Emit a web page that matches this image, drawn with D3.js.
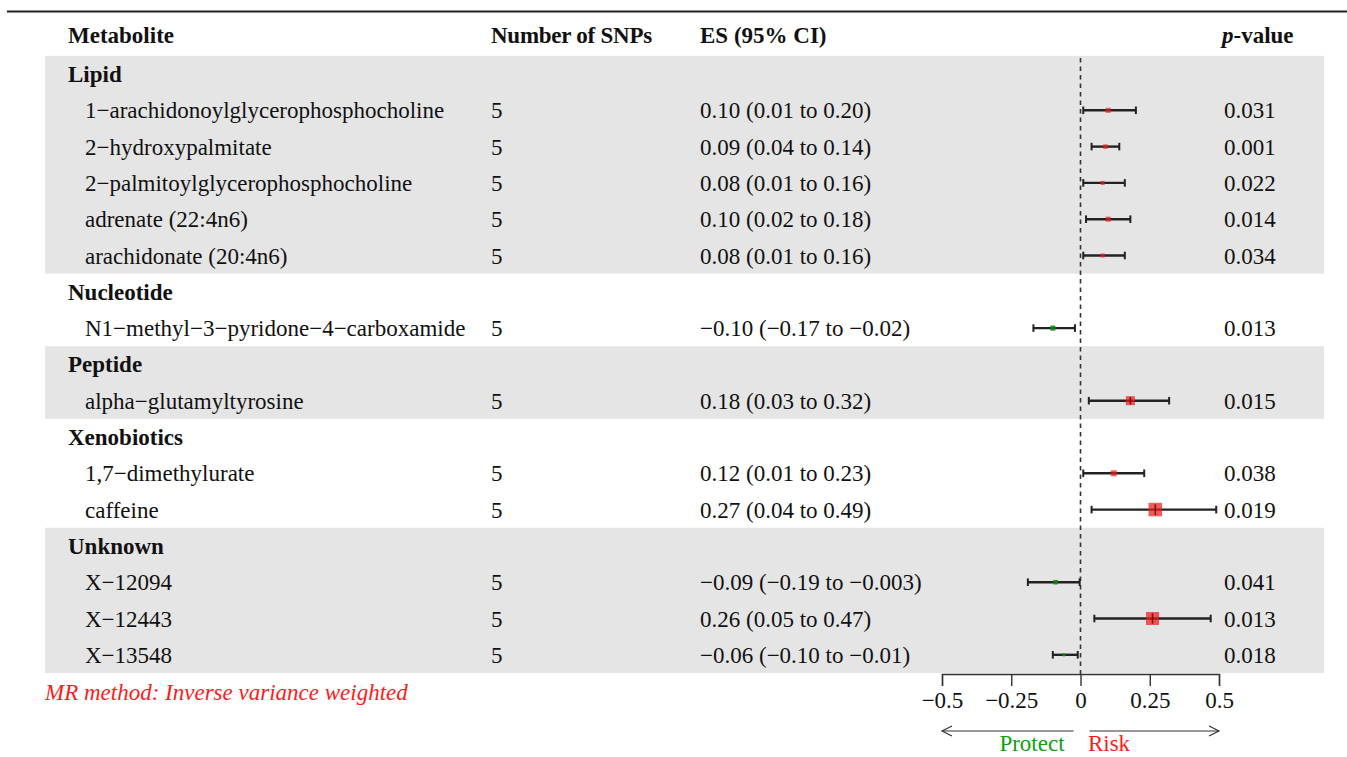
<!DOCTYPE html>
<html>
<head>
<meta charset="utf-8">
<script src="https://cdn.jsdelivr.net/npm/d3@7"></script>
<style>
  html, body { margin: 0; padding: 0; background: #fff; }
  svg { display: block; }
  text { font-family: "Liberation Serif", "Times New Roman", serif; fill: #111; }
</style>
</head>
<body>
<svg id="chart" width="1347" height="757"></svg>
<script>
// Metabolite groups and metabolites (MR estimates, inverse variance weighted)
const groups = ["Lipid", "Nucleotide", "Peptide", "Xenobiotics", "Unknown"];
const metabolites = [
  "1\u2212arachidonoylglycerophosphocholine",
  "2\u2212hydroxypalmitate",
  "2\u2212palmitoylglycerophosphocholine",
  "adrenate (22:4n6)",
  "arachidonate (20:4n6)",
  "N1\u2212methyl\u22123\u2212pyridone\u22124\u2212carboxamide",
  "alpha\u2212glutamyltyrosine",
  "1,7\u2212dimethylurate",
  "caffeine",
  "X\u221212094",
  "X\u221212443",
  "X\u221213548"
];
const metaboliteGroup = ["Lipid", "Lipid", "Lipid", "Lipid", "Lipid",
  "Nucleotide", "Peptide", "Xenobiotics", "Xenobiotics",
  "Unknown", "Unknown", "Unknown"];
const nSNPs = [5, 5, 5, 5, 5, 5, 5, 5, 5, 5, 5, 5];
const estimates = [0.10, 0.09, 0.08, 0.10, 0.08, -0.10, 0.18, 0.12, 0.27, -0.09, 0.26, -0.06];
const lower = [0.01, 0.04, 0.01, 0.02, 0.01, -0.17, 0.03, 0.01, 0.04, -0.19, 0.05, -0.10];
const upper = [0.20, 0.14, 0.16, 0.18, 0.16, -0.02, 0.32, 0.23, 0.49, -0.003, 0.47, -0.01];
const pValues = ["0.031", "0.001", "0.022", "0.014", "0.034", "0.013", "0.015", "0.038", "0.019", "0.041", "0.013", "0.018"];
const xTicks = [-0.5, -0.25, 0, 0.25, 0.5];

const svg = d3.select("#chart");
const FONT = 23;
const serif = '"Liberation Serif", "Times New Roman", serif';

// Build the table rows: a bold group row followed by its metabolites
const rows = [];
groups.forEach((g, gi) => {
  rows.push({ type: "group", label: g, gi });
  metabolites.forEach((m, i) => {
    if (metaboliteGroup[i] === g) rows.push({ type: "item", label: m, i, gi });
  });
});

const y = d3.scaleLinear().domain([0, rows.length - 1]).range([74, 654.8]);
const rowH = y(1) - y(0);
const x = d3.scaleLinear().domain([-0.5, 0.5]).range([942, 1219]);
const size = d3.scaleLinear().domain([0, 0.27]).range([0, 13.5]);

const col = { name: 68, item: 85, snp: 491, es: 700, p: 1224 };
const fmt = v => (v !== 0 && Math.abs(v) < 0.005) ? d3.format(".3f")(v) : d3.format(".2f")(v);

// Shaded bands for alternating groups
groups.forEach((g, gi) => {
  if (gi % 2 !== 0) return;
  const idx = rows.map((r, k) => r.gi === gi ? k : -1).filter(k => k >= 0);
  const top = y(d3.min(idx)) - rowH / 2, bottom = y(d3.max(idx)) + rowH / 2;
  svg.append("rect").attr("x", 45).attr("y", top).attr("width", 1324 - 45)
    .attr("height", bottom - top).attr("fill", "#e5e5e5");
});

// Top rule
svg.append("line").attr("x1", 7).attr("x2", 1347).attr("y1", 11.5).attr("y2", 11.5)
  .attr("stroke", "#222").attr("stroke-width", 2);

// Header
const header = svg.append("g").attr("font-size", FONT).attr("font-weight", "bold");
header.append("text").attr("x", col.name).attr("y", 43).text("Metabolite");
header.append("text").attr("x", col.snp).attr("y", 43).attr("letter-spacing", -0.25).text("Number of SNPs");
header.append("text").attr("x", col.es).attr("y", 43).text("ES (95% CI)");
const ph = header.append("text").attr("x", 1222).attr("y", 43);
ph.append("tspan").attr("font-style", "italic").text("p");
ph.append("tspan").text("-value");

// Reference line at zero
svg.append("line").attr("x1", x(0)).attr("x2", x(0)).attr("y1", 58).attr("y2", 674)
  .attr("stroke", "#333").attr("stroke-width", 1.6).attr("stroke-dasharray", "4.5,4");

// Table text
const body = svg.append("g").attr("font-size", FONT);
rows.forEach((r, k) => {
  const yy = y(k) + 8;
  if (r.type === "group") {
    body.append("text").attr("x", col.name).attr("y", yy).attr("font-weight", "bold").text(r.label);
  } else {
    const i = r.i;
    body.append("text").attr("x", col.item).attr("y", yy).text(r.label);
    body.append("text").attr("x", col.snp).attr("y", yy).text(nSNPs[i]);
    body.append("text").attr("x", col.es).attr("y", yy)
      .text(`${fmt(estimates[i])} (${fmt(lower[i])} to ${fmt(upper[i])})`);
    body.append("text").attr("x", col.p).attr("y", yy).text(pValues[i]);
  }
});

// Forest marks: CI whiskers with caps, then the estimate box
const items = rows.map((r, k) => ({ ...r, k })).filter(r => r.type === "item");
const marks = svg.append("g");
items.forEach(r => {
  const i = r.i, yy = y(r.k);
  const g = marks.append("g");
  g.append("line").attr("x1", x(lower[i])).attr("x2", x(upper[i])).attr("y1", yy).attr("y2", yy)
    .attr("stroke", "#222").attr("stroke-width", 2.4);
  [lower[i], upper[i]].forEach(v => {
    g.append("line").attr("x1", x(v)).attr("x2", x(v)).attr("y1", yy - 3.8).attr("y2", yy + 3.8)
      .attr("stroke", "#222").attr("stroke-width", 2);
  });
  const s = Math.max(3, size(Math.abs(estimates[i])));
  const pos = estimates[i] > 0;
  g.append("rect").attr("x", x(estimates[i]) - s / 2).attr("y", yy - s / 2)
    .attr("width", s).attr("height", s)
    .attr("fill", pos ? "#ee1c1c" : "#0a8a0a").attr("fill-opacity", pos ? 0.72 : 0.9);
  if (s > 6) {
    g.append("line").attr("x1", x(estimates[i])).attr("x2", x(estimates[i]))
      .attr("y1", yy - s * 0.4).attr("y2", yy + s * 0.4)
      .attr("stroke", "#6a0000").attr("stroke-width", 1.6).attr("stroke-opacity", 0.8);
  }
});

// Axis
const axis = d3.axisBottom(x).tickValues(xTicks).tickSize(12).tickPadding(6)
  .tickFormat(d => d === 0 ? "0" : d3.format("")(d));
const ag = svg.append("g").attr("transform", "translate(0,674)").call(axis);
ag.select(".domain").attr("stroke", "#333").attr("stroke-width", 1.4);
ag.selectAll(".tick line").attr("stroke", "#333").attr("stroke-width", 1.4);
ag.selectAll(".tick text").attr("font-size", FONT).attr("font-family", serif).attr("fill", "#111");

// Direction arrows
const arrowY = 731;
function arrow(x1, x2) {
  const dir = Math.sign(x2 - x1);
  svg.append("line").attr("x1", x1).attr("x2", x2).attr("y1", arrowY).attr("y2", arrowY)
    .attr("stroke", "#333").attr("stroke-width", 1.2);
  svg.append("path")
    .attr("d", `M${x2 - dir * 10},${arrowY - 5}L${x2},${arrowY}L${x2 - dir * 10},${arrowY + 5}`)
    .attr("fill", "none").attr("stroke", "#333").attr("stroke-width", 1.2);
}
arrow(x(0) - 7, x(-0.5));
arrow(x(0) + 9, x(0.5));
svg.append("text").attr("x", 1032).attr("y", 751).attr("text-anchor", "middle")
  .attr("font-size", FONT).style("fill", "#10a010").text("Protect");
svg.append("text").attr("x", 1109).attr("y", 751).attr("text-anchor", "middle")
  .attr("font-size", FONT).style("fill", "#ff1a1a").text("Risk");

// Method note
svg.append("text").attr("x", 45).attr("y", 700).attr("font-size", FONT)
  .attr("font-style", "italic").style("fill", "#ff1a1a")
  .text("MR method: Inverse variance weighted");
</script>
</body>
</html>
